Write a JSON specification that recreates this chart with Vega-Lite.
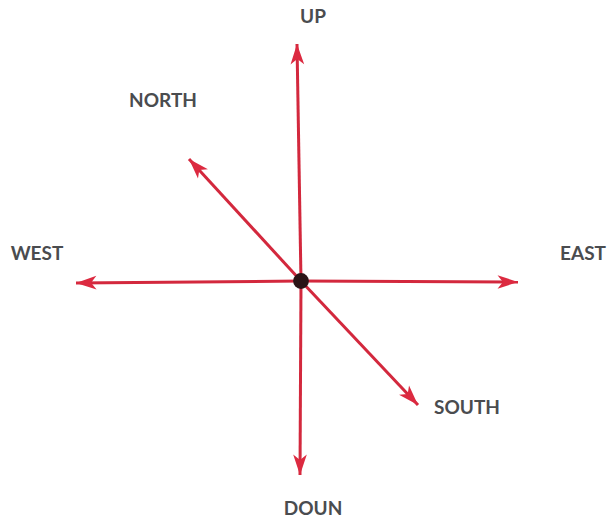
{
  "$schema": "https://vega.github.io/schema/vega-lite/v6.json",
  "width": 609,
  "height": 519,
  "autosize": {"type": "fit", "contains": "padding"},
  "padding": 0,
  "background": "white",
  "config": {"view": {"stroke": null}},
  "datasets": {
    "arrows": [
      {"dir": "UP", "x0": 301, "y0": 281, "x": 297, "y": 44, "bearing": 359},
      {"dir": "DOUN", "x0": 301, "y0": 281, "x": 300, "y": 475, "bearing": 180},
      {"dir": "WEST", "x0": 301, "y0": 281, "x": 76, "y": 283, "bearing": 269},
      {"dir": "EAST", "x0": 301, "y0": 281, "x": 518, "y": 282, "bearing": 90},
      {"dir": "NORTH", "x0": 301, "y0": 281, "x": 189, "y": 159, "bearing": 317},
      {"dir": "SOUTH", "x0": 301, "y0": 281, "x": 418, "y": 405, "bearing": 137}
    ],
    "labels": [
      {"label": "UP", "x": 313, "y": 17},
      {"label": "NORTH", "x": 163, "y": 101},
      {"label": "WEST", "x": 37, "y": 254},
      {"label": "EAST", "x": 583, "y": 254},
      {"label": "SOUTH", "x": 467, "y": 408},
      {"label": "DOUN", "x": 313, "y": 509}
    ],
    "center": [{"x": 301, "y": 281}]
  },
  "layer": [
    {
      "data": {"name": "arrows"},
      "mark": {"type": "rule", "color": "#d3283d", "strokeWidth": 3},
      "encoding": {
        "x": {"field": "x0", "type": "quantitative", "scale": {"domain": [0, 609]}, "axis": null},
        "y": {"field": "y0", "type": "quantitative", "scale": {"domain": [0, 519], "reverse": true}, "axis": null},
        "x2": {"field": "x"},
        "y2": {"field": "y"}
      }
    },
    {
      "data": {"name": "arrows"},
      "mark": {"type": "point", "filled": true, "color": "#dc2a40", "opacity": 1, "shape": "M0,0 L-0.7,2.1 L0,1.55 L0.7,2.1 Z", "size": 380},
      "encoding": {
        "x": {"field": "x", "type": "quantitative", "scale": {"domain": [0, 609]}, "axis": null},
        "y": {"field": "y", "type": "quantitative", "scale": {"domain": [0, 519], "reverse": true}, "axis": null},
        "angle": {"field": "bearing", "type": "quantitative", "scale": null}
      }
    },
    {
      "data": {"name": "center"},
      "mark": {"type": "circle", "color": "#2b1416", "opacity": 1, "size": 250},
      "encoding": {
        "x": {"field": "x", "type": "quantitative", "scale": {"domain": [0, 609]}, "axis": null},
        "y": {"field": "y", "type": "quantitative", "scale": {"domain": [0, 519], "reverse": true}, "axis": null}
      }
    },
    {
      "data": {"name": "labels"},
      "mark": {"type": "text", "font": "Lato", "fontWeight": "bold", "fontSize": 19, "color": "#4a4c4f", "align": "center", "baseline": "middle"},
      "encoding": {
        "x": {"field": "x", "type": "quantitative", "scale": {"domain": [0, 609]}, "axis": null},
        "y": {"field": "y", "type": "quantitative", "scale": {"domain": [0, 519], "reverse": true}, "axis": null},
        "text": {"field": "label"}
      }
    }
  ]
}
